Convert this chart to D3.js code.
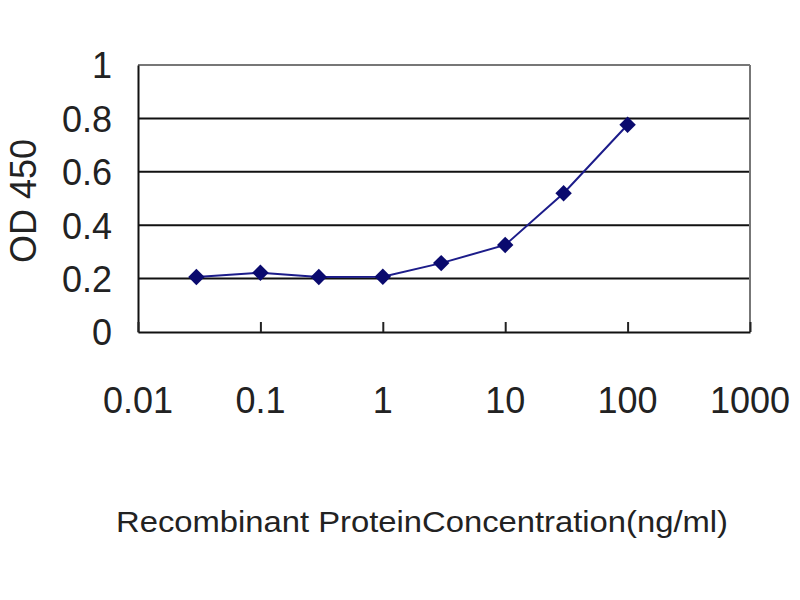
<!DOCTYPE html>
<html><head><meta charset="utf-8">
<script src="https://cdn.jsdelivr.net/npm/d3@7"></script>
<style>body{margin:0;background:#fff}svg text{font-family:"Liberation Sans",Arial,sans-serif;fill:#222}</style>
</head><body><svg id="c" width="800" height="600"></svg>
<script>
const concentrations = [0.03, 0.1, 0.3, 1, 3, 10, 30, 100];
const odValues = [0.206, 0.222, 0.206, 0.207, 0.258, 0.326, 0.52, 0.776];
const xTicks = [0.01, 0.1, 1, 10, 100, 1000];
const xTickLabels = ["0.01", "0.1", "1", "10", "100", "1000"];
const yTicks = [0, 0.2, 0.4, 0.6, 0.8, 1];
const yTickLabels = ["0", "0.2", "0.4", "0.6", "0.8", "1"];
const xTitle = "Recombinant ProteinConcentration(ng/ml)";
const yTitle = "OD 450";

const svg = d3.select("#c");
const L = 138, R = 750, T = 65, B = 332;
const x = d3.scaleLog().domain([0.01, 1000]).range([L, R]);
const y = d3.scaleLinear().domain([0, 1]).range([B, T]);

// gridlines
svg.append("g").selectAll("line").data(yTicks.filter(v => v > 0 && v < 1)).join("line")
  .attr("x1", L).attr("x2", R).attr("y1", d => y(d)).attr("y2", d => y(d))
  .attr("stroke", "#111").attr("stroke-width", 2);

// frame top/right grey
svg.append("line").attr("x1", L).attr("x2", R).attr("y1", T).attr("y2", T).attr("stroke", "#777").attr("stroke-width", 2);
svg.append("line").attr("x1", R).attr("x2", R).attr("y1", T).attr("y2", B).attr("stroke", "#777").attr("stroke-width", 2);

// axes
const yAxis = d3.axisLeft(y).tickValues(yTicks).tickFormat((d, i) => yTickLabels[i]).tickSize(0).tickPadding(26);
const gy = svg.append("g").attr("transform", `translate(${L},0)`).call(yAxis);
gy.select(".domain").attr("stroke", "#111").attr("stroke-width", 2);
gy.selectAll("text").attr("font-size", 36).attr("dy", "0.36em").style("font-family", '"Liberation Sans",Arial,sans-serif').attr("fill", "#222");

const xAxis = d3.axisTop(x).tickValues(xTicks).tickFormat(() => "").tickSize(10).tickSizeOuter(0);
const gx = svg.append("g").attr("transform", `translate(0,${B})`).call(xAxis);
gx.select(".domain").attr("stroke", "#111").attr("stroke-width", 2);
gx.selectAll(".tick line").attr("stroke", "#222").attr("stroke-width", 2);

svg.append("g").selectAll("text").data(xTicks).join("text")
  .attr("x", d => x(d)).attr("y", 413).attr("text-anchor", "middle")
  .attr("font-size", 36).text((d, i) => xTickLabels[i]);

// line and markers
const line = d3.line().x((d, i) => x(concentrations[i])).y(d => y(d));
svg.append("path").datum(odValues).attr("d", line).attr("fill", "none")
  .attr("stroke", "#1c1c8a").attr("stroke-width", 2);
svg.append("g").selectAll("path").data(odValues).join("path")
  .attr("transform", (d, i) => `translate(${x(concentrations[i])},${y(d)}) rotate(45)`)
  .attr("d", d3.symbol().type(d3.symbolSquare).size(135))
  .attr("fill", "#0a0a6e");

// titles
svg.append("text").attr("x", 422).attr("y", 532).attr("text-anchor", "middle")
  .attr("font-size", 30).attr("textLength", 612).attr("lengthAdjust", "spacingAndGlyphs").text(xTitle);
svg.append("text").attr("transform", "translate(36,201) rotate(-90)").attr("text-anchor", "middle")
  .attr("font-size", 36).text(yTitle);
</script></body></html>
